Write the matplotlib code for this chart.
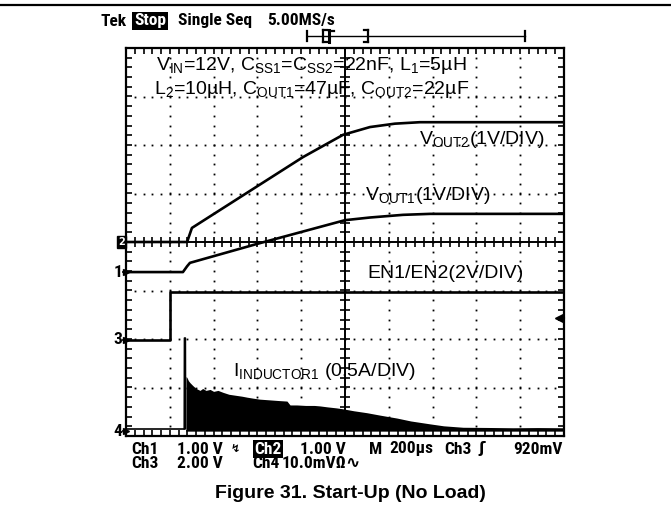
import matplotlib
matplotlib.use("Agg")
import matplotlib.pyplot as plt
import numpy as np
from matplotlib.patches import Rectangle
from matplotlib.lines import Line2D

plt.rcParams["font.family"] = ["Liberation Sans", "DejaVu Sans"]
plt.rcParams["mathtext.fontset"] = "custom"
plt.rcParams["mathtext.rm"] = "Liberation Sans"
plt.rcParams["mathtext.it"] = "Liberation Sans:italic"
plt.rcParams["mathtext.bf"] = "Liberation Sans:bold"

# ---- scope settings ----
time_per_div_us = 200
n_hdiv, n_vdiv = 10, 8

ch1_volts_per_div = 1.0     # VOUT1
ch2_volts_per_div = 1.0     # VOUT2
ch3_volts_per_div = 2.0     # EN1/EN2
ch4_amps_per_div = 0.5      # inductor current
ch1_ground_div = -0.62
ch2_ground_div = 0.0
ch3_ground_div = -2.02
ch4_ground_div = -3.90
ch3_trigger_v = 0.92

# ---- captured waveforms ----
en_time_us = [0, 201, 201, 2000]
en_volts = [0.0, 0.0, 1.98, 1.98]

vout1_time_us = [0, 260, 279, 292, 598, 1000, 1114, 1265, 1388, 2000]
vout1_volts = [0.0, 0.0, 0.12, 0.19, 0.58, 1.07, 1.125, 1.18, 1.20, 1.20]

vout2_time_us = [0, 279, 288, 301, 808, 991, 1114, 1228, 1342, 2000]
vout2_volts = [0.0, 0.0, 0.12, 0.29, 1.75, 2.21, 2.37, 2.44, 2.47, 2.47]

il_idle_time_us = [0, 266]
il_idle_amps = [0.025, 0.025]

il_spike_time_us = [266, 267, 271, 272]
il_spike_amps = [0.025, 0.96, 0.96, 0.025]

il_env_time_us = [274, 276, 279, 285, 292, 305, 320, 338, 350, 365, 384, 400, 420,
                  443, 470, 500, 530, 553, 580, 610, 640, 670, 700, 735, 749, 780,
                  820, 860, 886, 920, 960, 991, 1040, 1100, 1160, 1237, 1300, 1388,
                  1450, 1539, 1650, 1767, 1880, 2000]
il_env_amps = [0.56, 0.56, 0.55, 0.52, 0.50, 0.47, 0.44, 0.42, 0.44, 0.42, 0.43, 0.41, 0.42,
               0.40, 0.38, 0.37, 0.36, 0.35, 0.34, 0.33, 0.325, 0.32, 0.315, 0.31, 0.27, 0.27,
               0.265, 0.265, 0.26, 0.25, 0.24, 0.23, 0.21, 0.19, 0.165, 0.135, 0.105, 0.075,
               0.055, 0.04, 0.038, 0.035, 0.037, 0.035]

W, H = 671, 519
fig = plt.figure(figsize=(W / 100, H / 100), dpi=100)

def fx(px):
    return px / W

def fy(py):
    return 1 - py / H

# graticule rectangle (pixels)
GL, GR, GT, GB = 126, 564, 48, 436
ax = fig.add_axes([fx(GL), fy(GB), (GR - GL) / W, (GB - GT) / H])
t_span = n_hdiv * time_per_div_us
ax.set_xlim(0, t_span)
ax.set_ylim(-n_vdiv / 2, n_vdiv / 2)

for s in ax.spines.values():
    s.set_linewidth(1.6)
ax.set_xticks(np.arange(time_per_div_us / 5, t_span, time_per_div_us / 5))
ax.set_yticks(np.arange(-3.8, 3.81, 0.2))
ax.tick_params(direction="in", length=4.5, width=1.2, top=True, right=True,
               labelbottom=False, labelleft=False)

# dotted division lines
sub_x = np.arange(time_per_div_us / 5, t_span, time_per_div_us / 5)
sub_y = np.arange(-3.8, 3.81, 0.2)
for k in range(1, n_hdiv):
    if k == n_hdiv // 2:
        continue
    ax.plot(np.full_like(sub_y, k * time_per_div_us), sub_y, ls="none", marker="s",
            ms=1.3, mec="none", color="black", zorder=1)
for k in range(-3, 4):
    if k == 0:
        continue
    ax.plot(sub_x, np.full_like(sub_x, k), ls="none", marker="s", ms=1.3, mec="none",
            color="black", zorder=1)

# center cross with minor ticks
ax.axhline(0, color="black", lw=1.4, zorder=1)
ax.axvline(t_span / 2, color="black", lw=1.4, zorder=1)
ax.plot(sub_x, np.zeros_like(sub_x), ls="none", marker="|", ms=7, mew=1.2, color="black", zorder=1)
ax.plot(np.full_like(sub_y, t_span / 2), sub_y, ls="none", marker="_", ms=7, mew=1.2,
        color="black", zorder=1)

def to_div(values, ground, per_div):
    return ground + np.asarray(values) / per_div

trace = dict(color="black", lw=1.9, solid_joinstyle="round", zorder=3)
ax.plot(en_time_us, to_div(en_volts, ch3_ground_div, ch3_volts_per_div), **trace)
ax.plot(vout1_time_us, to_div(vout1_volts, ch1_ground_div, ch1_volts_per_div), **trace)
ax.plot(vout2_time_us, to_div(vout2_volts, ch2_ground_div, ch2_volts_per_div), **trace)
ax.plot(il_idle_time_us, to_div(il_idle_amps, ch4_ground_div, ch4_amps_per_div),
        color="black", lw=1.2, zorder=3)
ax.plot(il_spike_time_us, to_div(il_spike_amps, ch4_ground_div, ch4_amps_per_div),
        color="black", lw=1.2, zorder=3)
ax.fill_between(il_env_time_us, ch4_ground_div,
                to_div(il_env_amps, ch4_ground_div, ch4_amps_per_div),
                color="black", lw=0, zorder=3)

# trigger level marker on right edge
trig_div = ch3_ground_div + ch3_trigger_v / ch3_volts_per_div
ax.plot([t_span - 25], [trig_div], marker="<", ms=6, color="black", clip_on=False, zorder=4)
ax.plot([t_span - 25, t_span], [trig_div, trig_div], color="black", lw=1.5, clip_on=False, zorder=4)

# ---- channel ground markers on left edge ----
scope = dict(family=["Roboto Condensed", "Liberation Sans", "DejaVu Sans"], weight="bold",
             fontsize=12.5)
for label, g in (("1", ch1_ground_div), ("3", ch3_ground_div), ("4", ch4_ground_div)):
    ax.plot([-12, 0], [g, g], color="black", lw=1.3, clip_on=False)
    ax.plot([-2], [g], marker=">", ms=5, color="black", clip_on=False)
    ax.text(-16, g, label, ha="right", va="center", **scope)
ax.add_patch(Rectangle((-40, ch2_ground_div - 0.12), 40, 0.24, color="black",
                       clip_on=False, zorder=4))
ax.text(-20, ch2_ground_div, "2", ha="center", va="center", color="white",
        family="DejaVu Sans", weight="bold", fontsize=7, zorder=5)

# ---- annotations inside the graticule ----
ann = dict(fontsize=14, ha="left", va="center", color="black")
fig.text(fx(156), fy(66), r"$\mathregular{V_{IN}}$=12V, $\mathregular{C_{SS1}}$=$\mathregular{C_{SS2}}$=22nF, $\mathregular{L_1}$=5µH", **ann)
fig.text(fx(154), fy(90), r"$\mathregular{L_2}$=10µH, $\mathregular{C_{OUT1}}$=47µF, $\mathregular{C_{OUT2}}$=22µF", **ann)
fig.text(fx(419), fy(139), r"$\mathregular{V_{OUT2}}$(1V/DIV)", **ann)
fig.text(fx(365), fy(196), r"$\mathregular{V_{OUT1}}$(1V/DIV)", **ann)
fig.text(fx(367), fy(274), "EN1/EN2(2V/DIV)", **ann)
fig.text(fx(233), fy(372), r"$\mathregular{I_{INDUCTOR1}}$ (0.5A/DIV)", **ann)

# ---- header ----
fig.add_artist(Line2D([0, 1], [fy(5), fy(5)], color="black", lw=1.6))
fig.text(fx(127), fy(21), "Tek", ha="right", va="center", **scope)
fig.text(fx(134), fy(21), "Stop", ha="left", va="center", color="white",
         bbox=dict(facecolor="black", edgecolor="none", pad=1.2), **scope)
fig.text(fx(178), fy(21), "Single Seq", ha="left", va="center", **scope)
fig.text(fx(267), fy(21), "5.00MS/s", ha="left", va="center", **scope)

# record position bar
by = fy(36)
fig.add_artist(Line2D([fx(307), fx(525)], [by, by], color="black", lw=1.0))
for xb in (307, 525):
    fig.add_artist(Line2D([fx(xb), fx(xb)], [fy(31), fy(41)], color="black", lw=1.6))
fig.add_artist(Line2D([fx(323), fx(323)], [fy(30), fy(42)], color="black", lw=1.6))
fig.add_artist(Line2D([fx(323), fx(327)], [fy(30), fy(30)], color="black", lw=1.6))
fig.add_artist(Line2D([fx(323), fx(327)], [fy(42), fy(42)], color="black", lw=1.6))
fig.add_artist(Line2D([fx(329), fx(329)], [fy(30), fy(42)], color="black", lw=2.2))
fig.add_artist(Line2D([fx(329), fx(334)], [fy(31), fy(31)], color="black", lw=1.6))
fig.add_artist(Line2D([fx(368), fx(368)], [fy(30), fy(42)], color="black", lw=1.6))
fig.add_artist(Line2D([fx(364), fx(368)], [fy(30), fy(30)], color="black", lw=1.6))
fig.add_artist(Line2D([fx(364), fx(368)], [fy(42), fy(42)], color="black", lw=1.6))

# ---- readout ----
r1, r2 = fy(449), fy(463)
fig.text(fx(131), r1, "Ch1", ha="left", va="center", **scope)
fig.text(fx(177), r1, "1.00 V", ha="left", va="center", **scope)
fig.text(fx(231), r1, "↯", ha="left", va="center", family="DejaVu Sans", fontsize=8, weight="bold")
fig.text(fx(254), r1, "Ch2", ha="left", va="center", color="white",
         bbox=dict(facecolor="black", edgecolor="none", pad=1.0), **scope)
fig.text(fx(300), r1, "1.00 V", ha="left", va="center", **scope)
fig.text(fx(369), r1, "M", ha="left", va="center", **scope)
fig.text(fx(389), r1, "200µs", ha="left", va="center", **scope)
fig.text(fx(444), r1, "Ch3", ha="left", va="center", **scope)
fig.text(fx(478), r1, "ʃ", ha="left", va="center", family="DejaVu Sans", fontsize=11, weight="bold")
fig.text(fx(513), r1, "920mV", ha="left", va="center", **scope)
fig.text(fx(131), r2, "Ch3", ha="left", va="center", **scope)
fig.text(fx(177), r2, "2.00 V", ha="left", va="center", **scope)
fig.text(fx(252), r2, "Ch4", ha="left", va="center", **scope)
fig.text(fx(282), r2, "10.0mVΩ∿", ha="left", va="center", **scope)

# ---- caption ----
fig.text(fx(350), fy(494), "Figure 31. Start-Up (No Load)", ha="center", va="center",
         fontsize=14, weight="bold")

fig.savefig("out.png", dpi=100)
